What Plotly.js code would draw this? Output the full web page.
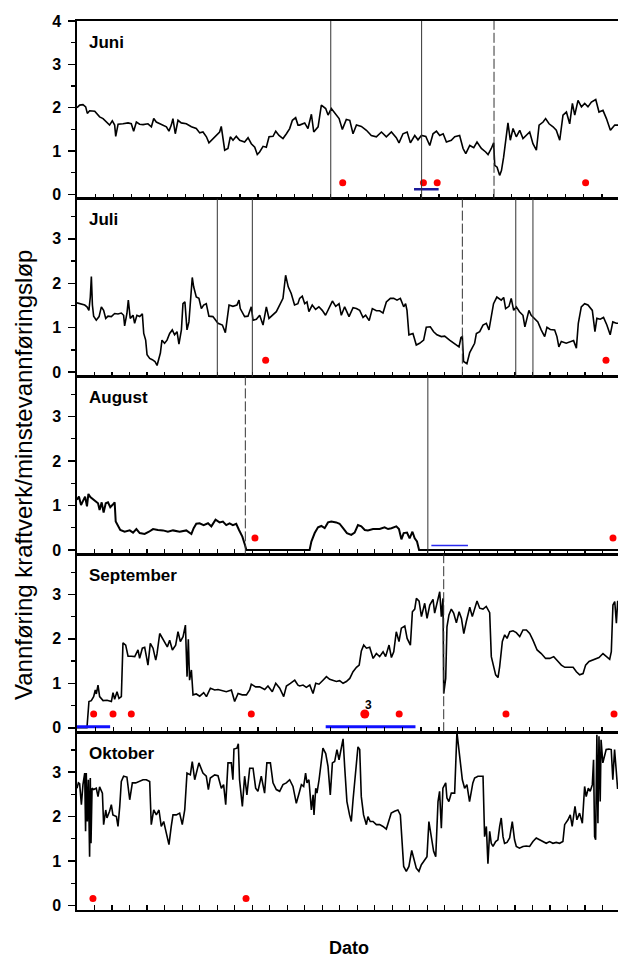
<!DOCTYPE html>
<html><head><meta charset="utf-8">
<script src="https://cdn.plot.ly/plotly-3.0.1.min.js"></script>
<style>html,body{margin:0;padding:0;overflow:hidden;background:#fff;width:618px;height:957px}#c{width:640px;height:957px}</style>
</head><body><div id="c"></div>
<script>
const months = ['Juni','Juli','August','September','Oktober'];
const monthDays = [30,31,31,30,31];
const yTickVals = [0,1,2,3,4];
const yTickText = ['0','1','2','3','4'];

const junDay = [0,0.15,0.33,0.48,0.57,0.70,0.98,1.07,1.25,1.44,1.66,1.80,1.95,2.08,2.14,2.27,2.54,2.82,3.00,3.13,3.28,3.46,3.65,3.92,4.11,4.24,4.38,4.66,4.94,5.08,5.21,5.30,5.43,5.58,5.76,6.04,6.32,6.59,6.78,6.96,7.15,7.29,7.51,7.70,7.88,7.97,8.03,8.16,8.34,8.47,8.62,8.80,8.99,9.26,9.45,9.63,9.82,9.96,10.09,10.28,10.46,10.61,10.83,10.98,11.16,11.38,11.57,11.75,11.90,12.08,12.21,
12.30,12.58,12.76,12.95,13.08,13.32,13.50,13.74,13.87,14.05,14.24,14.48,14.66,14.88,15.07,15.25,15.44,15.71,15.99,16.26,16.54,16.82,17.09,17.37,17.64,17.79,18.01,18.24,18.42,18.66,18.84,19.03,19.27,19.49,19.67,19.86,20.04,20.23,20.41,20.68,20.87,21.14,21.33,21.48,21.70,21.92,22.10,22.34,22.58,22.71,22.89,23.02,23.08,23.21,23.35,23.45,23.57,23.72,23.81,23.94,24.09,24.27,24.46,24.64,24.83,25.01,25.19,25.38,25.53,25.75,25.89,26.08,26.30,26.48,26.67,26.85,27.04,27.22,27.37,27.50,27.68,27.87,28.05,28.23,28.42,28.66,28.84,29.06,29.25,29.47,29.71,29.87,30.0];
const junVal = [2.0,2.06,2.07,2.02,1.87,1.93,1.92,1.87,1.79,1.75,1.65,1.6,1.7,1.6,1.34,1.62,1.63,1.65,1.63,1.46,1.67,1.62,1.61,1.63,1.56,1.75,1.67,1.62,1.56,1.46,1.6,1.75,1.4,1.71,1.65,1.63,1.56,1.52,1.42,1.44,1.33,1.19,1.29,1.36,1.44,1.57,1.4,1.02,1.06,1.33,1.25,1.34,1.25,1.21,1.31,1.17,1.09,0.92,0.98,1.11,1.09,1.33,1.34,1.46,1.36,1.29,1.4,1.52,1.71,1.77,1.6,
1.6,1.65,1.52,1.85,1.44,1.56,2.06,1.98,1.83,1.98,1.87,1.75,1.5,1.73,1.71,1.4,1.6,1.57,1.48,1.36,1.33,1.44,1.33,1.44,1.31,1.19,1.4,1.44,1.19,1.36,1.26,1.36,1.34,1.13,1.4,1.46,1.36,1.4,1.21,1.25,1.33,1.36,1.06,0.94,1.13,1.08,1.21,1.06,0.98,0.92,1.06,1.19,0.67,0.63,0.44,0.55,0.86,1.4,1.65,1.25,1.52,1.33,1.48,1.29,1.36,1.44,1.17,1.02,1.6,1.67,1.75,1.63,1.56,1.48,1.25,1.83,1.9,1.63,2.1,1.83,2.17,2.02,2.1,2.02,2.13,2.19,1.9,1.94,1.75,1.48,1.6,1.6,1.6];

const julDay = [0,0.25,0.44,0.57,0.68,0.76,0.82,0.88,0.95,1.10,1.26,1.39,1.52,1.64,1.77,1.96,2.15,2.34,2.53,2.66,2.72,2.85,2.93,3.04,3.20,3.29,3.42,3.58,3.73,3.81,3.92,4.00,4.15,4.30,4.45,4.57,4.68,4.76,4.85,5.00,5.14,5.29,5.44,5.57,5.71,5.82,5.96,6.05,6.16,6.28,6.39,6.47,6.58,6.66,6.81,6.96,7.10,7.23,7.38,7.53,7.76,8.05,8.30,8.47,8.56,8.68,8.90,9.13,9.25,9.32,9.57,9.76,9.95,10.05,10.24,10.43,10.62,10.81,10.96,11.15,11.38,11.61,11.76,11.91,12.06,12.23,12.42,12.61,
12.71,12.86,13.00,13.13,13.24,13.43,13.62,13.81,14.00,14.19,14.39,14.58,14.77,14.96,15.09,15.28,15.53,15.76,15.95,16.14,16.33,16.48,16.68,16.86,17.09,17.28,17.47,17.66,17.89,18.08,18.27,18.46,18.65,18.76,18.84,18.95,19.18,19.37,19.56,19.79,19.94,20.17,20.36,20.55,20.80,20.99,21.27,21.56,21.81,21.92,22.00,22.07,22.26,22.42,22.57,22.70,22.80,22.99,23.18,23.37,23.52,23.65,23.78,23.97,24.22,24.36,24.47,24.66,24.79,24.93,25.08,25.26,25.46,25.57,25.69,25.80,25.93,26.12,26.31,26.50,26.70,26.83,27.02,27.27,27.40,27.51,27.65,27.93,28.16,28.35,28.51,28.62,28.79,28.98,29.17,29.42,29.57,29.68,29.87,30.06,30.25,30.44,30.59,30.79,31.0];
const julVal = [1.56,1.54,1.51,1.47,1.39,1.69,2.15,1.51,1.26,1.17,1.25,1.47,1.39,1.21,1.26,1.25,1.32,1.31,1.33,1.28,1.04,1.32,1.62,1.21,1.28,1.10,1.28,1.25,1.31,0.87,0.72,0.39,0.31,0.28,0.24,0.15,0.31,0.43,0.72,0.65,0.72,0.87,0.95,0.84,0.91,0.63,0.95,1.54,1.58,0.95,1.13,1.54,2.13,1.92,1.69,1.66,1.43,1.51,1.54,1.26,1.25,1.10,1.06,0.89,1.17,1.51,1.48,1.51,1.62,1.43,1.25,1.26,1.47,1.17,1.19,1.28,1.06,1.47,1.21,1.28,1.36,1.54,1.66,2.18,1.92,1.77,1.51,1.54,
1.66,1.71,1.54,1.58,1.36,1.51,1.41,1.47,1.39,1.28,1.43,1.60,1.48,1.54,1.28,1.47,1.25,1.45,1.43,1.39,1.23,1.28,1.16,1.43,1.38,1.38,1.33,1.58,1.66,1.66,1.62,1.66,1.47,1.54,1.39,0.84,0.87,0.61,0.65,0.72,1.01,1.02,0.91,0.84,0.80,0.81,0.72,0.63,0.57,0.78,0.80,0.24,0.19,0.44,0.57,0.65,0.87,0.91,1.06,1.10,0.95,1.25,1.54,1.69,1.62,1.68,1.43,1.48,1.66,1.39,1.47,1.36,1.28,1.02,1.25,1.39,1.28,1.21,1.13,0.95,0.80,1.01,0.96,0.95,0.80,0.57,0.69,0.65,0.69,0.71,0.54,1.10,1.47,1.54,1.51,1.39,0.91,1.21,1.19,1.23,1.06,0.84,1.13,1.10,1.10];

const augDay = [0,0.11,0.23,0.34,0.46,0.57,0.65,0.76,0.91,1.07,1.20,1.29,1.41,1.52,1.64,1.77,1.90,2.02,2.15,2.21,2.34,2.47,2.72,3.01,3.20,3.39,3.58,3.86,4.11,4.34,4.62,4.91,5.19,5.48,5.86,6.24,6.53,6.66,6.81,7.00,7.23,7.48,7.67,7.91,8.14,8.33,8.52,8.71,8.90,9.09,9.25,9.44,9.59,9.67,13.28,13.38,13.57,13.76,13.95,14.14,14.33,14.52,14.80,14.99,15.19,15.41,15.66,15.85,16.04,16.23,16.43,16.61,16.90,17.28,17.56,17.76,17.95,18.23,18.38,18.52,18.65,18.84,18.99,19.15,19.28,19.41,19.53,31];
const augVal = [1.13,1.20,1.01,1.09,1.20,0.98,1.26,1.19,1.14,1.09,1.05,0.90,1.07,0.84,1.05,1.07,0.96,1.01,1.07,0.64,0.53,0.45,0.41,0.44,0.39,0.47,0.38,0.36,0.41,0.47,0.45,0.44,0.41,0.44,0.41,0.44,0.36,0.49,0.59,0.60,0.56,0.60,0.53,0.68,0.62,0.64,0.56,0.60,0.56,0.59,0.45,0.30,0.11,0,0,0.19,0.38,0.51,0.54,0.49,0.62,0.64,0.62,0.59,0.49,0.38,0.34,0.39,0.56,0.53,0.45,0.44,0.47,0.47,0.51,0.47,0.49,0.53,0.47,0.24,0.38,0.39,0.26,0.41,0.26,0.19,0,0];

const sepDay = [0,0.55,0.66,0.79,0.92,1.01,1.07,1.16,1.25,1.44,1.66,1.90,1.99,2.08,2.21,2.32,2.45,2.54,2.69,2.82,3.00,3.19,3.37,3.46,3.61,3.74,3.83,3.92,4.05,4.20,4.35,4.42,4.57,4.71,4.84,4.99,5.12,5.27,5.45,5.58,5.71,5.86,5.99,6.08,6.15,6.22,6.32,6.41,6.59,6.78,7.00,7.15,7.37,7.61,7.79,8.03,8.25,8.53,8.71,8.90,9.13,9.36,9.54,9.63,9.87,10.09,10.37,10.55,10.79,10.98,11.20,11.42,11.57,11.79,12.03,12.21,
12.30,12.49,12.67,12.86,13.04,13.19,13.37,13.59,13.78,13.96,14.15,14.33,14.51,14.70,14.88,15.07,15.25,15.44,15.59,15.71,15.84,15.99,16.17,16.36,16.54,16.72,16.91,17.05,17.24,17.37,17.50,17.64,17.79,17.92,18.11,18.24,18.42,18.53,18.66,18.75,18.90,19.03,19.21,19.34,19.49,19.67,19.76,19.89,20.04,20.13,20.22,20.26,20.37,20.44,20.55,20.68,20.81,20.96,21.11,21.24,21.37,21.51,21.70,21.84,21.97,22.10,22.25,22.43,22.61,22.80,22.89,23.02,23.13,23.26,23.35,23.50,23.63,23.76,23.91,24.09,24.27,24.46,24.64,24.83,25.01,25.19,25.42,25.65,25.89,26.12,26.34,26.58,26.76,26.95,27.22,27.41,27.59,27.77,27.96,28.10,28.29,28.47,28.66,28.84,29.06,29.25,29.43,29.52,29.61,29.71,29.80,29.87,30.0];
const sepVal = [0,0,0.59,0.61,0.70,0.85,0.76,0.96,0.70,0.61,0.62,0.59,0.79,0.64,0.81,0.66,0.70,1.91,1.86,1.61,1.61,1.60,1.75,1.56,1.79,1.81,1.61,1.41,1.90,1.79,1.52,1.66,2.12,2.01,1.94,1.82,1.97,1.75,1.86,2.16,1.94,2.05,2.31,1.15,1.99,1.07,1.30,0.74,0.76,0.71,0.79,0.70,0.89,0.85,0.86,0.83,0.81,0.85,0.59,0.77,0.74,0.74,0.85,0.98,0.92,0.92,0.86,0.94,0.81,1.00,0.89,0.70,0.94,1.00,1.07,0.96,
0.94,0.96,0.91,0.96,0.77,1.00,0.98,1.07,1.15,1.09,1.07,1.04,1.06,1.00,1.04,1.11,1.26,1.36,1.41,1.73,1.86,1.79,1.81,1.56,1.67,1.60,1.71,1.60,1.86,1.58,1.71,2.16,1.94,2.24,2.29,2.01,1.86,2.61,2.67,2.91,2.85,2.50,2.80,2.46,2.76,2.89,2.58,2.84,3.06,2.50,2.91,0.77,1.11,2.27,2.54,2.67,2.58,2.36,2.61,2.46,2.12,2.39,2.71,2.50,2.65,2.85,2.69,2.67,2.73,2.59,1.60,1.41,1.19,1.13,1.37,1.94,2.09,2.01,2.16,2.18,2.14,2.05,2.20,2.20,2.12,1.97,1.75,1.67,1.56,1.56,1.60,1.49,1.41,1.36,1.37,1.36,1.26,1.19,1.22,1.41,1.49,1.52,1.56,1.58,1.67,1.60,1.54,1.71,2.76,2.84,2.35,2.84,2.84];

const octDay = [0,0.08,0.15,0.25,0.34,0.44,0.49,0.53,0.59,0.65,0.68,0.72,0.76,0.80,0.86,0.95,1.10,1.20,1.29,1.45,1.52,1.64,1.71,1.86,1.96,2.05,2.25,2.34,2.44,2.53,2.66,2.85,3.01,3.16,3.35,3.54,3.77,3.96,4.15,4.24,4.38,4.53,4.68,4.81,4.95,5.10,5.25,5.38,5.48,5.67,5.86,6.01,6.15,6.28,6.47,6.58,6.72,6.96,7.19,7.38,7.50,7.61,7.86,8.05,8.24,8.37,8.49,8.62,8.81,8.90,8.96,9.13,9.21,9.28,9.44,9.57,9.70,9.86,10.05,10.20,10.33,10.52,10.71,10.84,11.04,11.19,11.38,11.57,11.76,11.95,12.14,12.33,12.52,
12.71,12.81,12.94,13.05,13.13,13.24,13.32,13.38,13.48,13.53,13.63,13.70,13.82,13.95,14.04,14.20,14.33,14.46,14.58,14.71,14.84,14.96,15.09,15.19,15.28,15.41,15.56,15.66,15.76,15.91,16.04,16.14,16.23,16.36,16.52,16.61,16.74,16.90,17.09,17.28,17.47,17.66,17.81,17.94,18.13,18.32,18.46,18.57,18.65,18.80,18.95,19.11,19.22,19.37,19.52,19.66,19.79,19.98,20.09,20.23,20.36,20.48,20.61,20.70,20.80,20.89,21.05,21.12,21.23,21.37,21.56,21.69,21.84,22.00,22.13,22.26,22.41,22.53,22.60,22.70,22.89,23.08,23.18,23.27,23.37,23.46,23.56,23.65,23.75,23.90,24.03,24.13,24.22,24.32,24.41,24.55,24.70,24.85,24.98,25.08,25.26,25.46,25.65,25.84,26.03,26.22,26.41,26.60,26.79,26.98,27.17,27.36,27.55,27.74,27.84,28.03,28.16,28.27,28.43,28.54,28.69,28.85,28.98,29.07,29.19,29.30,29.42,29.49,29.55,29.61,29.68,29.74,29.80,29.87,29.92,30.02,30.12,30.21,30.37,30.50,30.59,30.69,30.78,30.86,31.0];
const octVal = [2.64,2.76,2.74,2.27,2.72,2.98,1.67,2.98,1.89,2.83,2.08,1.10,2.87,1.40,2.64,2.61,2.64,2.45,2.67,2.53,1.82,2.15,1.97,2.12,2.27,2.04,2.00,1.78,2.23,2.79,2.91,2.89,2.38,2.76,2.76,2.79,2.83,2.83,2.79,1.82,2.15,2.04,2.15,1.78,1.89,1.63,1.37,1.78,2.04,2.04,2.08,1.82,2.15,2.98,2.94,3.24,2.83,3.21,2.98,2.91,2.61,2.87,2.94,2.92,2.64,2.72,2.27,3.21,3.21,2.83,3.52,3.54,3.64,2.83,2.23,2.91,2.49,3.09,3.09,2.64,2.57,2.91,2.53,3.21,3.21,2.76,2.61,2.57,2.72,2.76,2.83,2.68,2.30,
2.57,2.72,2.68,2.98,2.76,2.83,2.45,2.15,2.49,2.04,2.64,2.53,2.83,3.28,3.54,3.42,3.13,2.49,3.21,3.24,3.51,3.28,3.54,3.75,3.13,2.34,2.04,1.89,2.38,3.09,3.57,3.51,2.45,2.04,1.82,2.00,1.89,1.89,1.82,1.82,1.78,1.72,1.89,2.08,2.12,2.15,2.04,1.25,0.88,0.77,0.88,1.24,1.07,0.84,0.77,0.92,0.99,1.10,1.89,1.52,1.22,1.10,2.34,2.57,1.74,2.64,2.76,2.42,2.34,2.53,2.53,3.9,3.39,2.83,2.64,2.72,2.34,2.64,2.76,2.87,2.91,2.91,2.91,1.55,1.78,0.94,1.67,1.40,1.33,1.44,1.48,1.78,1.97,1.55,1.40,1.42,1.52,1.89,1.48,1.33,1.29,1.33,1.34,1.33,1.44,1.52,1.48,1.44,1.40,1.44,1.40,1.42,1.40,1.44,1.82,1.93,2.04,1.78,2.23,1.93,2.08,1.85,2.68,2.45,2.64,2.57,2.72,3.28,1.55,1.48,3.84,1.85,3.81,2.34,3.73,3.21,3.36,3.51,3.52,3.51,2.83,3.51,3.06,2.64,2.64];

// events: vertical lines (days)
const solidLines = [[14.02,19.04],[8.01,10.01,25.05,26.03],[20.03],[],[]];
const dashedLines = [[23.04],[22.0],[9.61],[20.26],[]];
// red dots
const dotDays = [[14.68,19.14,19.90,28.10],[10.77,30.2],[10.16,30.6],[0.92,1.99,3.0,9.63,15.9,17.8,23.7,29.67],[0.91,9.65]];
const dotVals = [[0.27,0.27,0.27,0.27],[0.27,0.27],[0.27,0.27],[0.31,0.31,0.31,0.31,0.31,0.31,0.31,0.31],[0.16,0.16]];
const dotSizes = [[7,7,7,7],[7,7],[7,7],[7,7,7,7,9,7,7,7],[7,7]];
// blue periods
const blueDays = [[18.62,19.98],[],[20.23,22.32],[0,1.83,null,13.74,18.7],[]];
const blueVals = [[0.12,0.12],[],[0.1,0.1],[0.02,0.02,null,0.02,0.02],[]];
const blueColors = ['#1a1a99','#0000ff','#2a2aee','#1010ff','#0000ff'];
const blueWidths = [2.5,2,1.5,3,2];

const lineDays = [junDay,julDay,augDay,sepDay,octDay];
const lineVals = [junVal,julVal,augVal,sepVal,octVal];
const yTop = [4.0,3.9,3.9,3.9,3.9];

const FONT = 'Arial, "Liberation Sans", Helvetica, sans-serif';
const traces = [], shapes = [], annotations = [];
const layout = {
  width: 640, height: 957,
  margin: {l: 77, r: 20, t: 21, b: 47},
  paper_bgcolor: '#fff', plot_bgcolor: '#fff',
  showlegend: false,
  font: {family: FONT, color: '#000'}
};

for (let i = 0; i < 5; i++) {
  const n = i === 0 ? '' : String(i + 1);
  const xa = 'x' + n, ya = 'y' + n;
  const top = 1 - i / 5, bot = 1 - (i + 1) / 5;
  layout['xaxis' + n] = {
    domain: [0, 1], anchor: ya, range: [0, monthDays[i]],
    showline: true, mirror: true, linecolor: '#000', linewidth: 1.6,
    ticks: 'inside', ticklen: 5, tickwidth: 1.2, tickcolor: '#000',
    dtick: 1, tick0: 0, showticklabels: false, showgrid: false, zeroline: false
  };
  layout['yaxis' + n] = {
    domain: [bot, top], anchor: xa, range: [-0.1, yTop[i]],
    showline: true, mirror: true, linecolor: '#000', linewidth: 1.6,
    ticks: 'outside', ticklen: 7, tickwidth: 1.5, tickcolor: '#000',
    tickmode: 'array', tickvals: yTickVals, ticktext: yTickText.map(t => '<b>' + t + '</b>'),
    minor: {tickmode: 'linear', tick0: 0, dtick: 0.5, ticks: 'outside', ticklen: 4, tickwidth: 1.2, tickcolor: '#000', showgrid: false},
    tickfont: {family: FONT, size: 16, color: '#000'},
    ticklabelstandoff: 4,
    showgrid: false, zeroline: false
  };
  traces.push({
    x: lineDays[i], y: lineVals[i], xaxis: xa, yaxis: ya, type: 'scatter', mode: 'lines',
    line: {color: '#000', width: i === 2 ? 2 : 1.6}, hoverinfo: 'skip'
  });
  if (blueDays[i].length) {
    traces.push({
      x: blueDays[i], y: blueVals[i], xaxis: xa, yaxis: ya, type: 'scatter', mode: 'lines',
      line: {color: blueColors[i], width: blueWidths[i]}, connectgaps: false, hoverinfo: 'skip'
    });
  }
  traces.push({
    x: dotDays[i], y: dotVals[i], xaxis: xa, yaxis: ya, type: 'scatter', mode: 'markers',
    marker: {color: '#ff0000', size: dotSizes[i], opacity: 1, line: {width: 0}}, hoverinfo: 'skip'
  });
  solidLines[i].forEach(d => shapes.push({
    type: 'line', xref: xa, yref: ya + ' domain', x0: d, x1: d, y0: 0, y1: 1,
    line: {color: '#333', width: 1}
  }));
  dashedLines[i].forEach(d => shapes.push({
    type: 'line', xref: xa, yref: ya + ' domain', x0: d, x1: d, y0: 0, y1: 1,
    line: {color: '#333', width: 1, dash: '10px,3px'}
  }));
  annotations.push({
    xref: xa + ' domain', yref: ya + ' domain', x: 0.018, y: 1 - 21 / 177.8,
    xanchor: 'left', yanchor: 'middle', showarrow: false, text: '<b>' + months[i] + '</b>',
    font: {family: FONT, size: 17, color: '#000'}
  });
}
// label "3" above the big dot in September
annotations.push({
  xref: 'x4', yref: 'y4', x: 16.1, y: 0.52, xanchor: 'center', yanchor: 'middle',
  showarrow: false, text: '<b>3</b>', font: {family: FONT, size: 12, color: '#000'}
});
// shared y title
annotations.push({
  xref: 'paper', yref: 'paper', x: (23 - 77) / 543, y: (910 - 475) / 889, xanchor: 'center', yanchor: 'middle',
  showarrow: false, textangle: -90, text: 'Vannføring kraftverk/minstevannføringsløp',
  font: {family: FONT, size: 24, color: '#000'}
});
// x title
annotations.push({
  xref: 'paper', yref: 'paper', x: 0.5, y: -38/889, xanchor: 'center', yanchor: 'middle',
  showarrow: false, text: '<b>Dato</b>', font: {family: FONT, size: 18, color: '#000'}
});
layout.shapes = shapes;
layout.annotations = annotations;

Plotly.newPlot('c', traces, layout, {staticPlot: true, displayModeBar: false});
</script>
</body></html>
